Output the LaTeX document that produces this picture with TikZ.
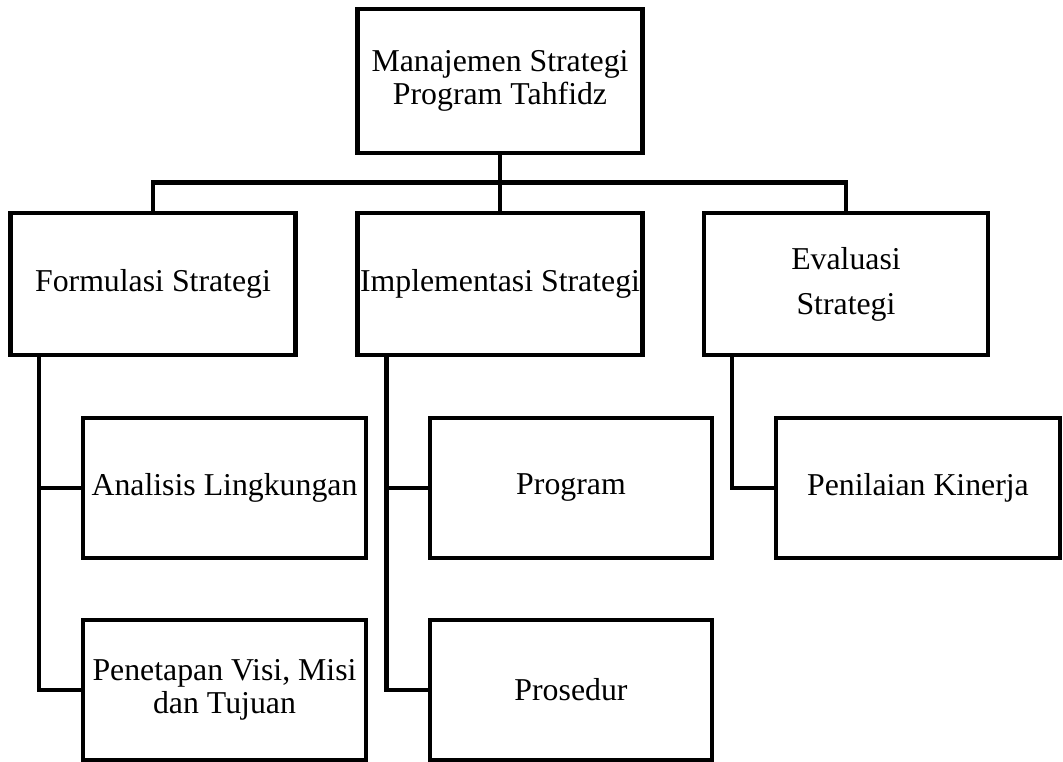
\documentclass[tikz,border=0pt]{standalone}
\usepackage{fontspec}
\setmainfont{Liberation Serif}
\begin{document}
\begin{tikzpicture}[x=1pt,y=-1pt,
  box/.style={draw=black, line width=4.5pt, outer sep=0pt, inner sep=0pt,
    minimum width=285pt, minimum height=142pt, align=center,
    font=\fontsize{31.8}{33}\selectfont},
  conn/.style={draw=black, line width=4.5pt}]
\useasboundingbox (0,0) rectangle (1063,762);
\node[box, minimum height=144pt] (top) at (500,81) {Manajemen Strategi\\Program Tahfidz};
\node[box] (form) at (153,284) {Formulasi Strategi};
\node[box] (impl) at (500,284) {Implementasi Strategi};
\node[box, minimum width=284pt] (eval) at (846,284) {Evaluasi\\[12pt]Strategi};
\node[box, minimum width=283pt, minimum height=140pt] (ana) at (224.5,488) {Analisis Lingkungan};
\node[box, minimum width=283pt, minimum height=140pt] (pen) at (224.5,690) {Penetapan Visi, Misi\\dan Tujuan};
\node[box, minimum width=282pt, minimum height=140pt] (prog) at (571,488) {Program};
\node[box, minimum width=282pt, minimum height=140pt] (pros) at (571,690) {Prosedur};
\node[box, minimum width=284pt, minimum height=140pt] (penk) at (918,488) {Penilaian Kinerja};
\coordinate (bus) at (500,182.5);
\draw[conn] (top.south) -- (impl.north);
\draw[conn] (form.north) |- (bus) -| (eval.north);
\draw[conn] ([xshift=28.5pt]form.south west) |- (ana.west);
\draw[conn] ([xshift=28.5pt]form.south west) |- (pen.west);
\draw[conn] ([xshift=29pt]impl.south west) |- (prog.west);
\draw[conn] ([xshift=29pt]impl.south west) |- (pros.west);
\draw[conn] ([xshift=28pt]eval.south west) |- (penk.west);
\end{tikzpicture}
\end{document}
